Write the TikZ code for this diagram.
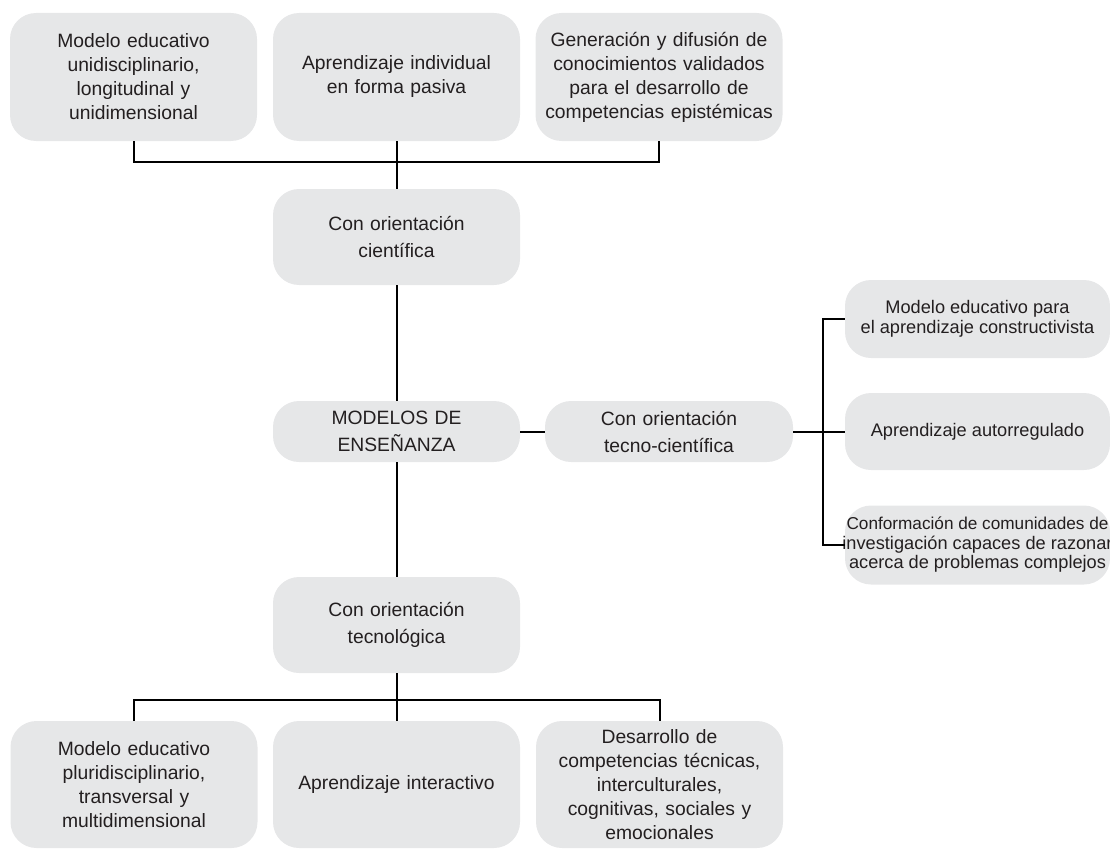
\documentclass[tikz,border=0pt]{standalone}
\usepackage{fontspec}
\setmainfont{Liberation Sans}
\definecolor{grisclaro}{HTML}{E6E7E8}
\definecolor{tinta}{HTML}{231F20}
\tikzset{
  caja/.style={fill=grisclaro,rounded corners=26pt,inner sep=0pt,align=center,
    text=tinta,font=\fontsize{19.3}{24}\selectfont},
  cajasup/.style={caja,text width=247pt},
  cajamed/.style={caja,text width=247pt,minimum height=96pt,font=\fontsize{19.3}{27}\selectfont},
  cajader/.style={caja,minimum width=265pt,font=\fontsize{18.2}{19.5}\selectfont},
  linea/.style={line width=2pt,black}
}

\begin{document}
\begin{tikzpicture}[x=1pt,y=-1pt]
  \useasboundingbox (0,0) rectangle (1110,848);
  \clip (0,0) rectangle (1110,848);
  % fila superior
  \foreach \x/\t[count=\i] in {
    133.5/{Modelo educativo\\unidisciplinario,\\longitudinal y\\unidimensional},
    396.5/{Aprendizaje individual\\en forma pasiva},
    659/{Generación y difusión de\\conocimientos validados\\para el desarrollo de\\competencias epistémicas}%
  }
  {\node[cajasup,minimum height=128pt] (sup\i) at (\x,77) {\t};}
  % columna central
  \node[cajamed] (cien) at (396.5,237) {Con orientación\\científica};
  \node[cajamed,minimum height=61pt] (mod) at (396.5,431.5) {MODELOS DE\\ENSEÑANZA};
  \node[cajamed,minimum height=61pt,text width=248pt] (tc) at (669,431.5) {Con orientación\\tecno-científica};
  \node[cajamed] (tec) at (396.5,625) {Con orientación\\tecnológica};
  % fila inferior
  \foreach \x/\t[count=\i] in {
    134/{Modelo educativo\\pluridisciplinario,\\transversal y\\multidimensional},
    396.5/{Aprendizaje interactivo},
    659.5/{Desarrollo de\\competencias técnicas,\\interculturales,\\cognitivas, sociales y\\emocionales}%
  }
  {\node[cajasup,minimum height=127pt] (inf\i) at (\x,784.5) {\t};}
  % columna derecha
  \foreach \y/\h/\t[count=\i] in {
    319/78/{Modelo educativo para\\el aprendizaje constructivista},
    431.5/77/{Aprendizaje autorregulado},
    545/79/{\fontsize{17.2}{19.5}\selectfont\makebox[240pt]{Conformación de comunidades de}\\\makebox[240pt]{investigación capaces de razonar}\\acerca de problemas complejos}%
  }
  {\node[cajader,minimum height=\h pt] (der\i) at (977.5,\y) {\t};}
  % conectores
  \coordinate (jsup) at (396.5,162);
  \coordinate (jinf) at (396.5,700);
  \coordinate (jder) at (823,431.5);
  \draw[linea] (sup1.south) |- (jsup) -| (sup3.south);
  \draw[linea] (sup2.south) -- (cien.north);
  \draw[linea] (cien.south) -- (mod.north);
  \draw[linea] (mod.south) -- (tec.north);
  \draw[linea] (mod.east) -- (tc.west);
  \draw[linea] (tc.east) -- (jder) -- (der2.west);
  \draw[linea] (der1.west) -| (jder) |- (der3.west);
  \draw[linea] (tec.south) -- (inf2.north);
  \draw[linea] (inf1.north) |- (jinf) -| (inf3.north);
\end{tikzpicture}
\end{document}
